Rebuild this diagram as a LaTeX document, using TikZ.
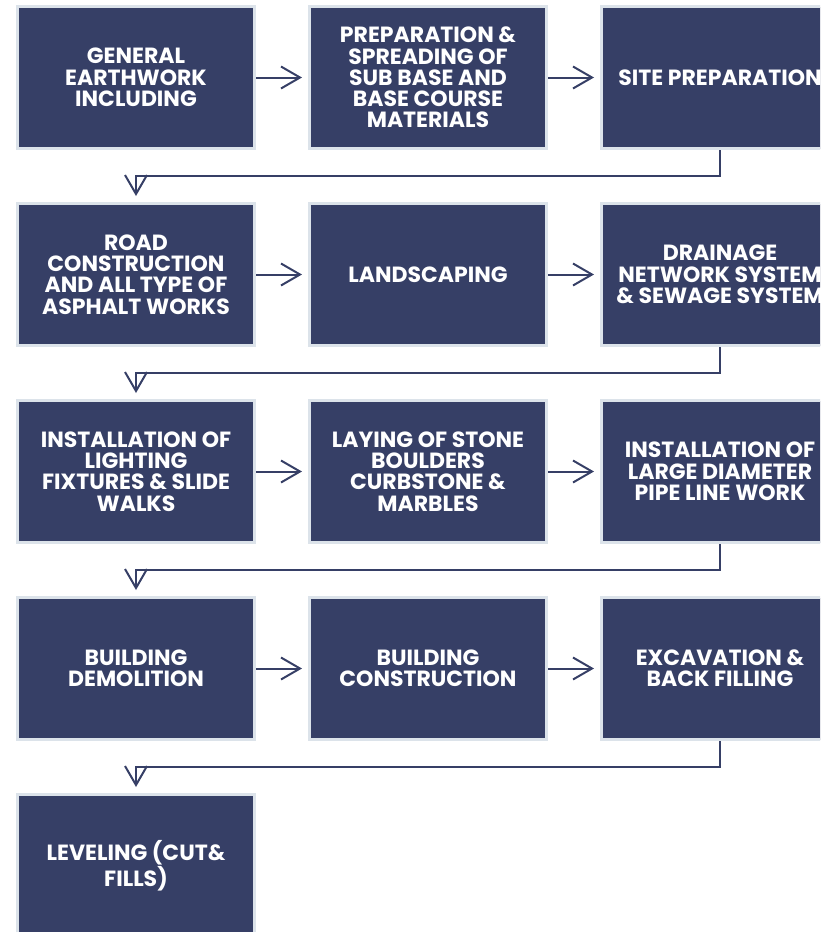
\documentclass[tikz,border=0pt]{standalone}
\usepackage{fontspec}
\setmainfont{Poppins}
\usetikzlibrary{arrows.meta}
\definecolor{navy}{HTML}{363F66}
\definecolor{rim}{HTML}{DCE3EA}
\tikzset{
  stepbox/.style={draw=rim, line width=3pt, fill=navy, minimum width=237pt,
    minimum height=142pt, inner sep=0pt, align=center, text=white,
    font=\fontsize{22}{21.3}\selectfont\bfseries},
  flow/.style={draw=navy, line width=2pt, line join=miter,
    -{Straight Barb[length=19pt,width=22pt]}, shorten >=6pt}
}
\begin{document}
\begin{tikzpicture}[x=1pt,y=-1pt]
\useasboundingbox (0,0) rectangle (820,932);
\clip (0,0) rectangle (820,932);
% row 1
\node[stepbox] (a1) at (136,77.5) {GENERAL\\EARTHWORK\\INCLUDING};
\node[stepbox] (a2) at (428,77.5) {PREPARATION \&\\SPREADING OF\\SUB BASE AND\\BASE COURSE\\MATERIALS};
\node[stepbox] (a3) at (720,77.5) {SITE PREPARATION};
% row 2
\node[stepbox] (b1) at (136,274.5) {ROAD\\CONSTRUCTION\\AND ALL TYPE OF\\ASPHALT WORKS};
\node[stepbox] (b2) at (428,274.5) {LANDSCAPING};
\node[stepbox] (b3) at (720,274.5) {DRAINAGE\\NETWORK SYSTEM\\\& SEWAGE SYSTEM};
% row 3
\node[stepbox] (c1) at (136,471.5) {INSTALLATION OF\\LIGHTING\\FIXTURES \& SLIDE\\WALKS};
\node[stepbox] (c2) at (428,471.5) {LAYING OF STONE\\BOULDERS\\CURBSTONE \&\\MARBLES};
\node[stepbox] (c3) at (720,471.5) {INSTALLATION OF\\LARGE DIAMETER\\PIPE LINE WORK};
% row 4
\node[stepbox] (d1) at (136,668.5) {BUILDING\\DEMOLITION};
\node[stepbox] (d2) at (428,668.5) {BUILDING\\CONSTRUCTION};
\node[stepbox] (d3) at (720,668.5) {EXCAVATION \&\\BACK FILLING};
% row 5
\node[stepbox] (e1) at (136,865.5) {LEVELING (CUT\&\\FILLS)};
% connectors
\draw[flow] (a1.east) -- (a2.west);
\draw[flow] (a2.east) -- (a3.west);
\draw[flow] (b1.east) -- (b2.west);
\draw[flow] (b2.east) -- (b3.west);
\draw[flow] (c1.east) -- (c2.west);
\draw[flow] (c2.east) -- (c3.west);
\draw[flow] (d1.east) -- (d2.west);
\draw[flow] (d2.east) -- (d3.west);
\draw[flow] (a3.south) -- ++(0,26) -| (b1.north);
\draw[flow] (b3.south) -- ++(0,26) -| (c1.north);
\draw[flow] (c3.south) -- ++(0,26) -| (d1.north);
\draw[flow] (d3.south) -- ++(0,26) -| (e1.north);
\end{tikzpicture}
\end{document}
